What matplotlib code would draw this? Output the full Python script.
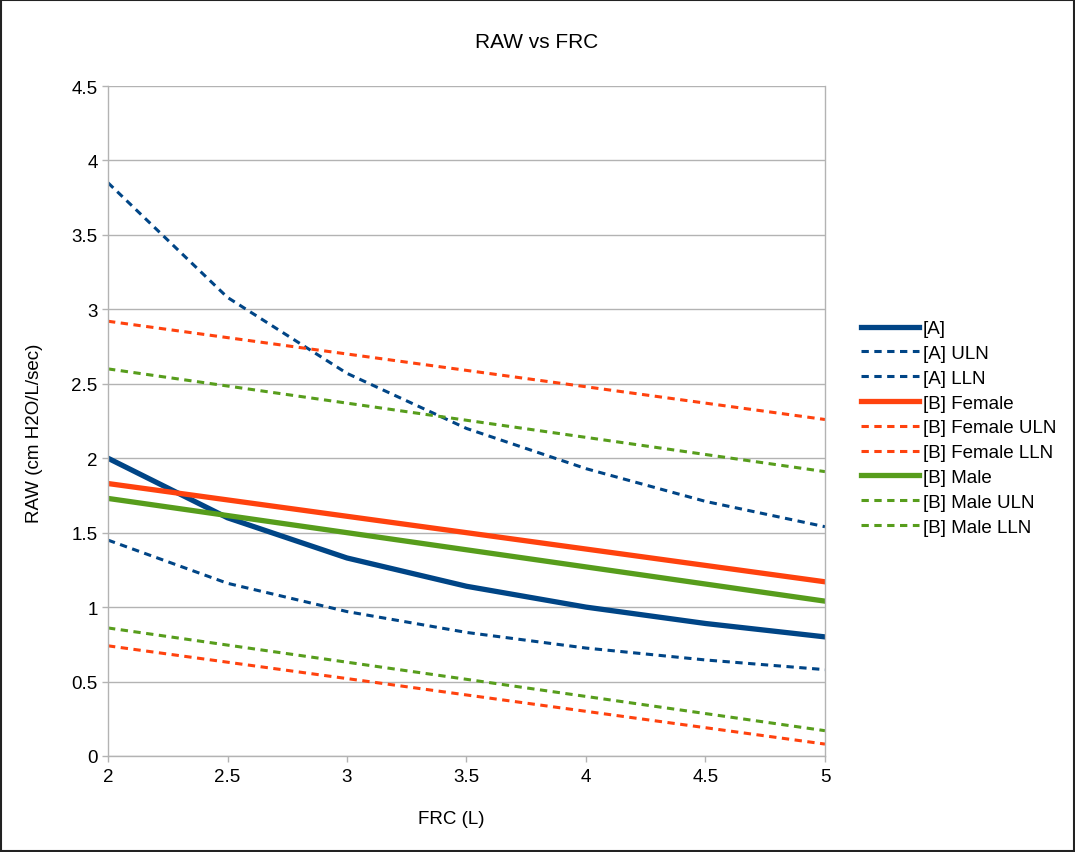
import matplotlib
matplotlib.use("Agg")
import matplotlib.pyplot as plt
from matplotlib.patches import Rectangle

plt.rcParams['font.family'] = ['Liberation Sans', 'DejaVu Sans']

frc = [2, 2.5, 3, 3.5, 4, 4.5, 5]

a_mean = [2.0, 1.6, 1.33, 1.14, 1.0, 0.89, 0.8]
a_uln = [3.85, 3.08, 2.57, 2.2, 1.93, 1.71, 1.54]
a_lln = [1.45, 1.16, 0.97, 0.83, 0.725, 0.645, 0.58]

female = [1.83, 1.72, 1.61, 1.50, 1.39, 1.28, 1.17]
female_uln = [2.92, 2.81, 2.70, 2.59, 2.48, 2.37, 2.26]
female_lln = [0.74, 0.63, 0.52, 0.41, 0.30, 0.19, 0.08]

male = [1.73, 1.615, 1.50, 1.385, 1.27, 1.155, 1.04]
male_uln = [2.60, 2.485, 2.37, 2.255, 2.14, 2.025, 1.91]
male_lln = [0.86, 0.745, 0.63, 0.515, 0.40, 0.285, 0.17]

blue = "#004586"
orange = "#ff420e"
green = "#579d1c"
grid = "#b3b3b3"

W, H = 1075, 853
fig = plt.figure(figsize=(W / 100, H / 100), dpi=100)
ax = fig.add_axes([108 / W, 96 / H, 717 / W, 670 / H])

solid_w = 3.8
dash_w = 2.2
dash = (0, (2.4, 1.8))

series = [
    (a_mean, blue, "-", solid_w, "[A]"),
    (a_uln, blue, dash, dash_w, "[A] ULN"),
    (a_lln, blue, dash, dash_w, "[A] LLN"),
    (female, orange, "-", solid_w, "[B] Female"),
    (female_uln, orange, dash, dash_w, "[B] Female ULN"),
    (female_lln, orange, dash, dash_w, "[B] Female LLN"),
    (male, green, "-", solid_w, "[B] Male"),
    (male_uln, green, dash, dash_w, "[B] Male ULN"),
    (male_lln, green, dash, dash_w, "[B] Male LLN"),
]
for vals, col, ls, lw, lab in series:
    ax.plot(frc, vals, color=col, linestyle=ls, linewidth=lw, label=lab)

ax.set_xlim(2, 5)
ax.set_ylim(0, 4.5)
ax.set_xticks([2, 2.5, 3, 3.5, 4, 4.5, 5])
ax.set_xticklabels(["2", "2.5", "3", "3.5", "4", "4.5", "5"])
ax.set_yticks([0, 0.5, 1, 1.5, 2, 2.5, 3, 3.5, 4, 4.5])
ax.set_yticklabels(["0", "0.5", "1", "1.5", "2", "2.5", "3", "3.5", "4", "4.5"])
ax.grid(axis="y", color=grid, linewidth=1)
ax.set_axisbelow(True)
for s in ax.spines.values():
    s.set_color(grid)
    s.set_linewidth(1)
ax.spines["top"].set_visible(False)
ax.tick_params(colors=grid, labelcolor="black", labelsize=13.5, length=4, width=1)
ax.tick_params(axis="x", pad=5)

fig.text(537 / W, 1 - 42 / H, "RAW vs FRC", fontsize=15, ha="center", va="center")
fig.text(451 / W, 1 - 820 / H, "FRC (L)", fontsize=13.5, ha="center", va="center")
fig.text(35 / W, 1 - 433 / H, "RAW (cm H2O/L/sec)", fontsize=13.5, ha="center",
         va="center", rotation=90)

fig.legend(loc="upper left", bbox_to_anchor=(861 / W, 1 - 321 / H),
           frameon=False, fontsize=13.5, handlelength=3.1, handletextpad=0.2,
           labelspacing=0.41, borderaxespad=0, borderpad=0)

fig.add_artist(Rectangle((1 / W, 1 / H), 1 - 2 / W, 1 - 2 / H, transform=fig.transFigure,
                         fill=False, edgecolor="#222222", linewidth=1.5))

fig.savefig("out.png", dpi=100)
